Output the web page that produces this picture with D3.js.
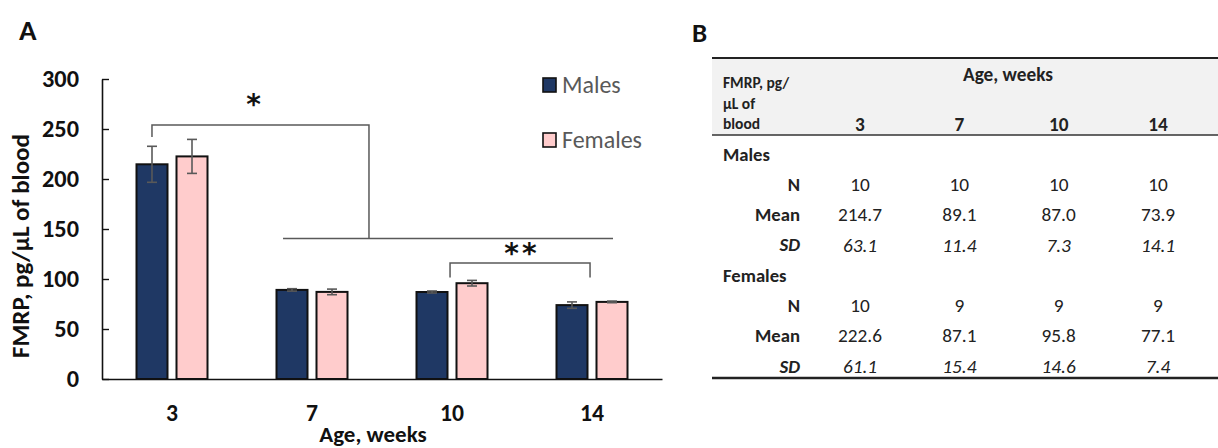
<!DOCTYPE html>
<html>
<head>
<meta charset="utf-8">
<script src="https://cdn.jsdelivr.net/npm/d3@7"></script>
<style>
  html, body { margin: 0; padding: 0; background: #fff; }
  svg { display: block; font-family: Carlito, Lato, "Open Sans", sans-serif; }
</style>
</head>
<body>
<svg id="chart" width="1218" height="448"></svg>
<script>
// ---------- data ----------
const ages = ["3", "7", "10", "14"];
const series = ["Males", "Females"];
const malesMean = [214.7, 89.1, 87.0, 73.9];
const femalesMean = [222.6, 87.1, 95.8, 77.1];
const malesErr = [18, 1.2, 1.0, 3.2];     // error bar half-lengths
const femalesErr = [17, 2.8, 2.8, 0.8];
const yTicks = [0, 50, 100, 150, 200, 250, 300];

// table B
const malesN = [10, 10, 10, 10];
const malesSD = [63.1, 11.4, 7.3, 14.1];
const femalesN = [10, 9, 9, 9];
const femalesSD = [61.1, 15.4, 14.6, 7.4];

// significance brackets (x in category-index units, y in data units)
const brackets = [
  { x1: -0.143, x2: 1.407, top: 254, end1: 242, end2: 140.5 },
  { x1: 1.986, x2: 2.986, top: 116, end1: 101.5, end2: 101.5 }
];
const lowerLine = { x1: 0.793, x2: 3.15, y: 140.5 };
const stars = [
  { text: "*", x: 0.593, y: 276 },
  { text: "**", x: 2.5, y: 127 }
];

// ---------- helpers ----------
const FONT = "Carlito, Lato, sans-serif";
const svg = d3.select("#chart");
// font size so that `str` (with given weight/style) measures `width` px
function fitSize(str, width, weight, style) {
  const t = svg.append("text").attr("font-size", 100).attr("font-family", FONT)
    .attr("font-weight", weight || "normal").attr("font-style", style || "normal").text(str);
  const w = t.node().getComputedTextLength();
  t.remove();
  return 100 * width / w;
}

const fsYTick = fitSize("300", 37, "bold");
const fsXTick = fitSize("10", 24, "bold");
const fsXTitle = Math.min(23, fitSize("Age, weeks", 113, "bold"));
const fsYTitle = Math.min(25, fitSize("FMRP, pg/μL of blood", 253, "bold"));
const fsLegend = fitSize("Females", 80, "normal");
const fsTabBold = fitSize("Mean", 45, "bold");
const fsTabStack = Math.min(15.5, fitSize("FMRP, pg/", 74, "bold"));
const fsTabHead = fitSize("Age, weeks", 90, "bold");
const fsTabVal = fitSize("214.7", 44, "normal");

// ---------- chart A ----------
const colors = { Males: "#1f3864", Females: "#ffcccc" };

const x0 = d3.scaleBand().domain(ages).range([102, 662]).padding(0);
const x1 = d3.scaleBand().domain(series).range([34.5, 105.5]).paddingInner(0.225).paddingOuter(0);
const y = d3.scaleLinear().domain([0, 300]).range([379, 79]);
const xi = d3.scaleLinear().domain([0, 3])
  .range([x0(ages[0]) + x0.bandwidth() / 2, x0(ages[3]) + x0.bandwidth() / 2]);

const gA = svg.append("g");

const barData = [];
ages.forEach((a, i) => {
  barData.push({ age: a, s: "Males", v: malesMean[i], e: malesErr[i] });
  barData.push({ age: a, s: "Females", v: femalesMean[i], e: femalesErr[i] });
});

gA.selectAll("rect.bar").data(barData).join("rect")
  .attr("class", "bar")
  .attr("x", d => x0(d.age) + x1(d.s))
  .attr("y", d => y(d.v))
  .attr("width", x1.bandwidth())
  .attr("height", d => y(0) - y(d.v))
  .attr("fill", d => colors[d.s])
  .attr("stroke", "#111")
  .attr("stroke-width", 2);

// error bars
const cx = d => x0(d.age) + x1(d.s) + x1.bandwidth() / 2;
const eb = gA.selectAll("g.err").data(barData).join("g").attr("class", "err")
  .attr("stroke", "#595959").attr("stroke-width", 1.6);
eb.append("line").attr("x1", cx).attr("x2", cx)
  .attr("y1", d => y(d.v + d.e)).attr("y2", d => y(d.v - d.e));
[1, -1].forEach(sg => {
  eb.append("line")
    .attr("x1", d => cx(d) - 5).attr("x2", d => cx(d) + 5)
    .attr("y1", d => y(d.v + sg * d.e)).attr("y2", d => y(d.v + sg * d.e));
});

// y axis
const yAxis = d3.axisLeft(y).tickValues(yTicks).tickSizeInner(-7).tickSizeOuter(0).tickPadding(23);
const gy = gA.append("g").attr("transform", "translate(102,0)").call(yAxis);
gy.select(".domain").attr("stroke", "#111").attr("stroke-width", 1.6);
gy.selectAll(".tick line").attr("stroke", "#111").attr("stroke-width", 1.4);
gy.selectAll(".tick text").attr("font-size", fsYTick).attr("font-weight", "bold")
  .attr("fill", "#111").attr("font-family", FONT);

// x axis
const xAxis = d3.axisBottom(x0).tickSize(0).tickPadding(25);
const gx = gA.append("g").attr("transform", "translate(0,379)").call(xAxis);
gx.select(".domain").attr("stroke", "#111").attr("stroke-width", 1.6);
gx.selectAll(".tick text").attr("font-size", fsXTick).attr("font-weight", "bold")
  .attr("fill", "#111").attr("font-family", FONT);

// axis titles
gA.append("text").attr("x", 373).attr("y", 442).attr("text-anchor", "middle")
  .attr("font-size", fsXTitle).attr("font-weight", "bold").attr("fill", "#111")
  .text("Age, weeks");
gA.append("text").attr("transform", "translate(29,246) rotate(-90)").attr("text-anchor", "middle")
  .attr("font-size", fsYTitle).attr("font-weight", "bold").attr("fill", "#111")
  .text("FMRP, pg/μL of blood");

// panel letter
svg.append("text").attr("x", 19).attr("y", 40).attr("font-size", 29).attr("font-weight", "bold")
  .attr("fill", "#111").text("A");

// brackets
const gb = gA.append("g").attr("fill", "none").attr("stroke", "#595959").attr("stroke-width", 1.5);
gb.selectAll("path").data(brackets).join("path")
  .attr("d", d => `M${xi(d.x1)},${y(d.end1)}V${y(d.top)}H${xi(d.x2)}V${y(d.end2)}`);
gb.append("line")
  .attr("x1", xi(lowerLine.x1)).attr("x2", xi(lowerLine.x2))
  .attr("y1", y(lowerLine.y)).attr("y2", y(lowerLine.y));
gA.selectAll("text.star").data(stars).join("text").attr("class", "star")
  .attr("x", d => xi(d.x)).attr("y", d => y(d.y) + 11)
  .attr("text-anchor", "middle").attr("font-size", 28).attr("fill", "#111")
  .attr("font-weight", "bold")
  .attr("letter-spacing", 3).attr("font-family", "DejaVu Sans, sans-serif")
  .text(d => d.text);

// legend
const lg = svg.append("g");
series.forEach((s, i) => {
  const yy = 78 + i * 55;
  lg.append("rect").attr("x", 543).attr("y", yy).attr("width", 13).attr("height", 14)
    .attr("fill", colors[s]).attr("stroke", "#111").attr("stroke-width", 1.6);
  lg.append("text").attr("x", 562).attr("y", yy + 7).attr("dy", "0.35em")
    .attr("font-size", fsLegend).attr("fill", "#595959").text(s);
});

// ---------- table B ----------
const tb = svg.append("g");
const colX = d3.scalePoint().domain(ages).range([860, 1158]);
const tLeft = 712, tRight = 1218;

svg.append("text").attr("x", 692).attr("y", 42).attr("font-size", 27).attr("font-weight", "bold")
  .attr("fill", "#111").text("B");

tb.append("rect").attr("x", tLeft).attr("y", 58).attr("width", tRight - tLeft).attr("height", 77)
  .attr("fill", "#f2f2f2");
tb.append("line").attr("x1", tLeft).attr("x2", tRight).attr("y1", 58).attr("y2", 58)
  .attr("stroke", "#222").attr("stroke-width", 2.2);
tb.append("line").attr("x1", tLeft).attr("x2", tRight).attr("y1", 135).attr("y2", 135)
  .attr("stroke", "#333").attr("stroke-width", 1.6);
tb.append("line").attr("x1", tLeft).attr("x2", tRight).attr("y1", 378).attr("y2", 378)
  .attr("stroke", "#222").attr("stroke-width", 2.6);

const hdr = tb.append("g").attr("font-weight", "bold").attr("fill", "#222");
["FMRP, pg/", "μL of", "blood"].forEach((t, i) => {
  hdr.append("text").attr("x", 723).attr("y", 83 + i * 20.5).attr("dy", "0.35em")
    .attr("font-size", fsTabStack).text(t);
});
hdr.append("text").attr("x", 1008).attr("y", 74).attr("dy", "0.35em").attr("text-anchor", "middle")
  .attr("font-size", fsTabHead).text("Age, weeks");
hdr.selectAll("text.col").data(ages).join("text").attr("class", "col")
  .attr("x", d => colX(d)).attr("y", 124).attr("dy", "0.35em").attr("text-anchor", "middle")
  .attr("font-size", fsTabHead).text(d => d);

const rows = [
  { label: "Males", group: true },
  { label: "N", vals: malesN.map(String) },
  { label: "Mean", vals: malesMean.map(v => v.toFixed(1)) },
  { label: "SD", vals: malesSD.map(v => v.toFixed(1)), italic: true },
  { label: "Females", group: true },
  { label: "N", vals: femalesN.map(String) },
  { label: "Mean", vals: femalesMean.map(v => v.toFixed(1)) },
  { label: "SD", vals: femalesSD.map(v => v.toFixed(1)), italic: true }
];
const rowY = d3.scaleLinear().domain([0, 7]).range([154, 366]);
rows.forEach((r, i) => {
  const yy = rowY(i);
  const lab = tb.append("text").attr("y", yy).attr("dy", "0.35em")
    .attr("font-size", fsTabBold).attr("font-weight", "bold").attr("fill", "#222").text(r.label);
  if (r.group) {
    lab.attr("x", 723);
  } else {
    lab.attr("x", 800).attr("text-anchor", "end");
    if (r.italic) lab.attr("font-style", "italic");
    tb.selectAll(null).data(r.vals).join("text")
      .attr("x", (d, j) => colX(ages[j])).attr("y", yy).attr("dy", "0.35em")
      .attr("text-anchor", "middle").attr("font-size", fsTabVal).attr("fill", "#222")
      .attr("font-style", r.italic ? "italic" : "normal")
      .text(d => d);
  }
});
</script>
</body>
</html>
